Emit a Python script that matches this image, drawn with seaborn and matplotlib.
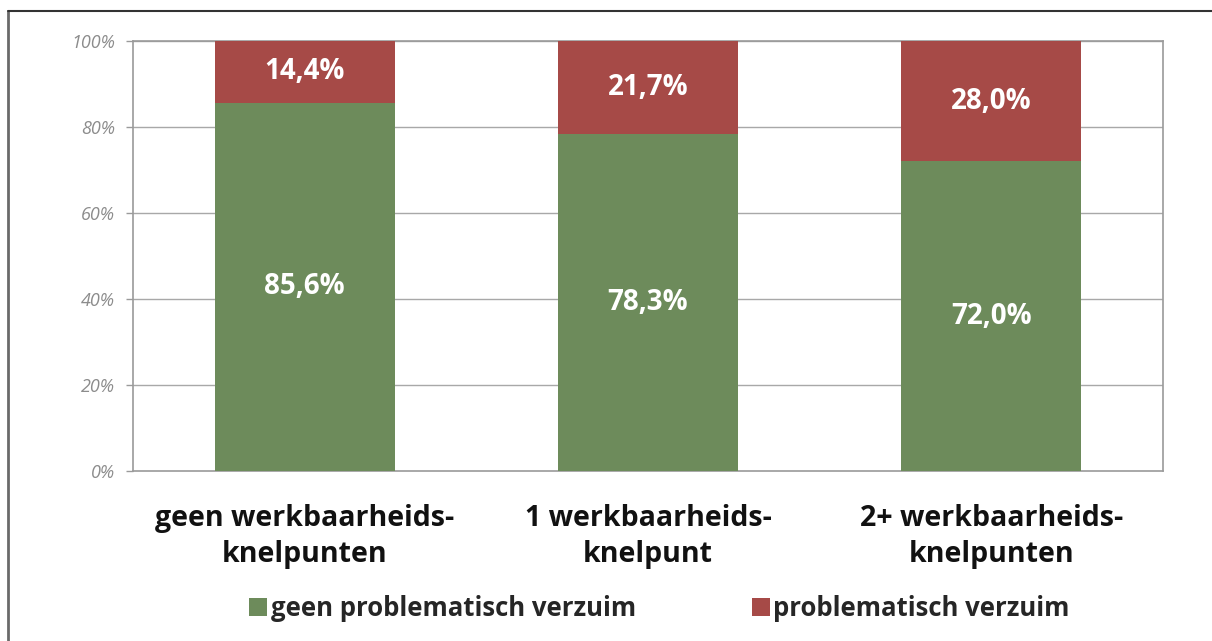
import matplotlib
matplotlib.use("Agg")
import matplotlib.pyplot as plt
import seaborn as sns
import pandas as pd
from matplotlib.patches import Patch
from matplotlib.lines import Line2D

categories = ["geen werkbaarheids-\nknelpunten", "1 werkbaarheids-\nknelpunt", "2+ werkbaarheids-\nknelpunten"]
geen_problematisch = [85.6, 78.3, 72.0]
problematisch = [14.4, 21.7, 28.0]
series_names = ["geen problematisch verzuim", "problematisch verzuim"]
yticks = [0, 20, 40, 60, 80, 100]

green = "#6D8B5B"
red = "#A64A47"

sns.set_theme(style="white")
plt.rcParams["font.family"] = ["Open Sans", "DejaVu Sans"]

df = pd.DataFrame({"cat": categories,
                   "geen": geen_problematisch,
                   "prob": problematisch})
df["total"] = df["geen"] + df["prob"]

fig = plt.figure(figsize=(12.12, 6.41), dpi=100)
ax = fig.add_axes([0.1097, 0.2652, 0.8499, 0.6708])

sns.barplot(data=df, x="cat", y="total", color=red, width=0.524, ax=ax,
            saturation=1, zorder=3, linewidth=0)
sns.barplot(data=df, x="cat", y="geen", color=green, width=0.524, ax=ax,
            saturation=1, zorder=3, linewidth=0)

ax.set_ylim(0, 100)
ax.set_xlim(-0.5, 2.5)
ax.set_yticks(yticks)
ax.set_yticklabels([f"{t}%" for t in yticks], fontsize=13, style="italic", color="#8C8C8C")
ax.tick_params(axis="y", length=5, width=1, color="#9A9A9A", direction="out", pad=8, left=True)
ax.tick_params(axis="x", length=0, pad=24)
for lbl in ax.get_xticklabels():
    lbl.set_fontsize(20.5)
    lbl.set_fontweight("bold")
    lbl.set_color("#111111")
    lbl.set_linespacing(1.28)
ax.set_xlabel("")
ax.set_ylabel("")
for t in yticks[1:]:
    ax.axhline(t, color="#A8A8A8", linewidth=1, zorder=1)
for s in ax.spines.values():
    s.set_color("#9A9A9A")
    s.set_linewidth(1.2)

for i, (g, p) in enumerate(zip(geen_problematisch, problematisch)):
    ax.text(i, g / 2, f"{g:.1f}%".replace(".", ","), ha="center", va="center",
            color="white", fontsize=20, fontweight="bold", zorder=5)
    ax.text(i, g + p / 2, f"{p:.1f}%".replace(".", ","), ha="center", va="center",
            color="white", fontsize=20, fontweight="bold", zorder=5)

handles = [Patch(facecolor=green, edgecolor="none"), Patch(facecolor=red, edgecolor="none")]
leg = fig.legend(handles, series_names, loc="center", bbox_to_anchor=(0.544, 0.051), ncol=2,
                 frameon=False, handlelength=0.7, handleheight=0.7, handletextpad=0.15,
                 columnspacing=4.5, prop={"weight": "bold", "size": 18.5})

# outer frame
fig.add_artist(Line2D([7.5 / 1212, 7.5 / 1212], [0, 1 - 11 / 641], transform=fig.transFigure,
                      color="#6A6A6A", linewidth=2))
fig.add_artist(Line2D([7.5 / 1212, 1], [1 - 11 / 641, 1 - 11 / 641], transform=fig.transFigure,
                      color="#333333", linewidth=1.5))

fig.savefig("out.png", dpi=100)
